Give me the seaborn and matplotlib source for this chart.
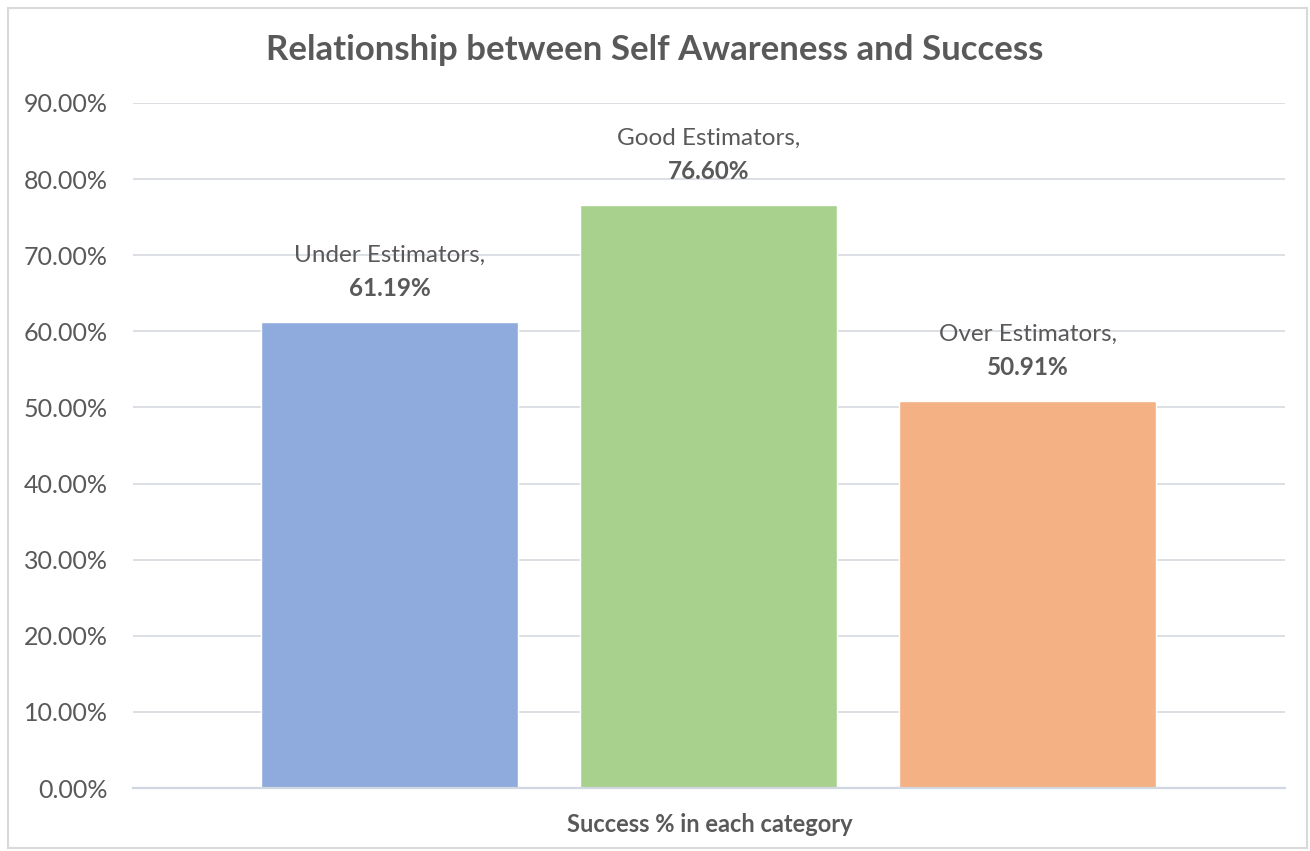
import matplotlib
matplotlib.use("Agg")
import matplotlib.pyplot as plt
import matplotlib.ticker as mtick
from matplotlib.patches import Rectangle
import seaborn as sns
import pandas as pd

# data
categories = ["Under Estimators", "Good Estimators", "Over Estimators"]
success = [0.6119, 0.7660, 0.5091]
bar_colors = ["#8FAADC", "#A9D18E", "#F4B183"]

TEXT = "#595959"
GRID = "#D9DDE3"

sns.set_theme(style="white")
plt.rcParams["font.family"] = ["Lato", "DejaVu Sans"]

df = pd.DataFrame({"category": categories, "success": success})

fig = plt.figure(figsize=(13.1, 8.51), dpi=100)
ax = fig.add_axes([0.1015, 0.074, 0.8795, 0.805])

sns.barplot(data=df, x="category", y="success", hue="category",
            palette=bar_colors, width=0.806, legend=False, ax=ax,
            saturation=1)

ax.set_ylim(0, 0.9)
ax.set_xlim(-0.804, 2.807)
ax.yaxis.set_major_locator(mtick.MultipleLocator(0.1))
ax.yaxis.set_major_formatter(mtick.PercentFormatter(1.0, decimals=2))
ax.grid(axis="y", color=GRID, linewidth=1.3)
ax.set_axisbelow(True)
for s in ["top", "right", "left"]:
    ax.spines[s].set_visible(False)
ax.spines["bottom"].set_color("#D0D7E1")
ax.spines["bottom"].set_linewidth(1.6)
ax.tick_params(axis="y", labelsize=18, labelcolor=TEXT, length=0, pad=18)
ax.set_xticks([])
ax.set_xlabel("")
ax.set_ylabel("")

# two-line data labels
for i, (name, val) in enumerate(zip(categories, success)):
    ax.annotate(f"{val:.2%}", (i, val), xytext=(0, 24), textcoords="offset points",
                ha="center", va="center", fontsize=17.5, fontweight="bold", color=TEXT)
    ax.annotate(f"{name},", (i, val), xytext=(0, 48), textcoords="offset points",
                ha="center", va="center", fontsize=17.5, color=TEXT)

fig.text(0.5, 0.941, "Relationship between Self Awareness and Success",
         ha="center", va="center", fontsize=25, fontweight="bold", color=TEXT)
fig.text(0.5417, 0.0306, "Success % in each category",
         ha="center", va="center", fontsize=17, fontweight="bold", color=TEXT)

# chart area border
fig.patches.append(Rectangle((8 / 1310, 3 / 851), 1299 / 1310, 840 / 851,
                             transform=fig.transFigure, fill=False,
                             edgecolor="#D9D9D9", linewidth=1.5))

fig.savefig("out.png", dpi=100)
